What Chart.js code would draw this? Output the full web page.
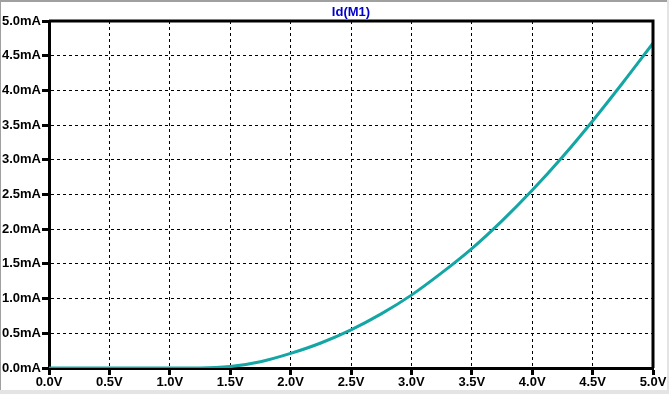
<!DOCTYPE html>
<html>
<head>
<meta charset="utf-8">
<script src="https://cdn.jsdelivr.net/npm/chart.js@4/dist/chart.umd.min.js"></script>
<style>
  html, body { margin: 0; padding: 0; background: #fff; }
  #wrap { width: 669px; height: 394px; position: relative; }
</style>
</head>
<body>
<div id="wrap"><canvas id="plot" width="669" height="394"></canvas></div>
<script>
const vgs = [0, 0.25, 0.5, 0.75, 1.0, 1.25, 1.5, 1.75, 2.0, 2.25, 2.5, 2.75, 3.0, 3.25, 3.5, 3.75, 4.0, 4.25, 4.5, 4.75, 5.0];
const idMilliAmp = [0, 0, 0, 0, 0, 0, 0.02, 0.09, 0.21, 0.36, 0.55, 0.78, 1.05, 1.37, 1.72, 2.12, 2.56, 3.04, 3.56, 4.11, 4.68];
const xTicks = [0, 0.5, 1.0, 1.5, 2.0, 2.5, 3.0, 3.5, 4.0, 4.5, 5.0];
const yTicks = [0, 0.5, 1.0, 1.5, 2.0, 2.5, 3.0, 3.5, 4.0, 4.5, 5.0];
const traceName = 'Id(M1)';

const points = vgs.map((v, i) => ({ x: v, y: idMilliAmp[i] }));

// Marco de la ventana + borde superior/derecho + título
const framePlugin = {
    id: 'frame',
    beforeDraw(chart) {
        const c = chart.ctx;
        c.save();
        c.fillStyle = '#ffffff';
        c.fillRect(0, 0, chart.width, chart.height);
        c.fillStyle = '#a0a0a0';
        c.fillRect(0, 0, chart.width, 2);
        c.fillRect(0, 0, 1, chart.height);
        c.fillStyle = '#e4e4e4';
        c.fillRect(0, chart.height - 4, chart.width, 4);
        c.fillRect(chart.width - 2, 0, 2, chart.height);
        c.restore();
    },
    afterDatasetsDraw(chart) {
        const a = chart.chartArea;
        const c = chart.ctx;
        c.save();
        c.strokeStyle = '#000';
        c.lineWidth = 3;
        c.beginPath();
        c.moveTo(a.left, a.top);
        c.lineTo(a.right, a.top);
        c.lineTo(a.right, a.bottom);
        c.stroke();
        c.fillStyle = '#0000c8';
        c.font = 'bold 13px "Liberation Sans"';
        c.textAlign = 'center';
        c.textBaseline = 'middle';
        c.fillText(traceName, (a.left + a.right) / 2, 12);
        c.restore();
    }
};

const tickFont = { family: 'Liberation Sans', size: 13, weight: 'bold' };

new Chart(document.getElementById('plot').getContext('2d'), {
    type: 'line',
    data: {
        datasets: [{
            label: traceName,
            data: points,
            borderColor: '#14a5a5',
            borderWidth: 3,
            pointRadius: 0,
            cubicInterpolationMode: 'monotone',
            fill: false
        }]
    },
    options: {
        responsive: false,
        animation: false,
        events: [],
        layout: { padding: { left: 0, right: 16, top: 21, bottom: 0 } },
        plugins: { legend: { display: false }, tooltip: { enabled: false } },
        scales: {
            x: {
                type: 'linear',
                min: 0,
                max: 5,
                afterFit(s) { s.height = 26; },
                afterBuildTicks(s) { s.ticks = xTicks.map(v => ({ value: v })); },
                ticks: {
                    color: '#000',
                    font: tickFont,
                    padding: 0,
                    maxRotation: 0,
                    autoSkip: false,
                    callback: v => v.toFixed(1) + 'V'
                },
                grid: {
                    color: '#000',
                    lineWidth: 1,
                    tickColor: '#000',
                    tickWidth: 3,
                    tickLength: 7,
                    tickBorderDash: [1, 0]
                },
                border: { display: true, color: '#000', width: 3, dash: [3, 3] }
            },
            y: {
                type: 'linear',
                min: 0,
                max: 5,
                afterFit(s) { s.width = 49; },
                afterBuildTicks(s) { s.ticks = yTicks.map(v => ({ value: v })); },
                ticks: {
                    color: '#000',
                    font: tickFont,
                    padding: 1,
                    autoSkip: false,
                    callback: v => v.toFixed(1) + 'mA'
                },
                grid: {
                    color: '#000',
                    lineWidth: 1,
                    tickColor: '#000',
                    tickWidth: 3,
                    tickLength: 7,
                    tickBorderDash: [1, 0]
                },
                border: { display: true, color: '#000', width: 3, dash: [3, 3] }
            }
        }
    },
    plugins: [framePlugin]
});
</script>
</body>
</html>
